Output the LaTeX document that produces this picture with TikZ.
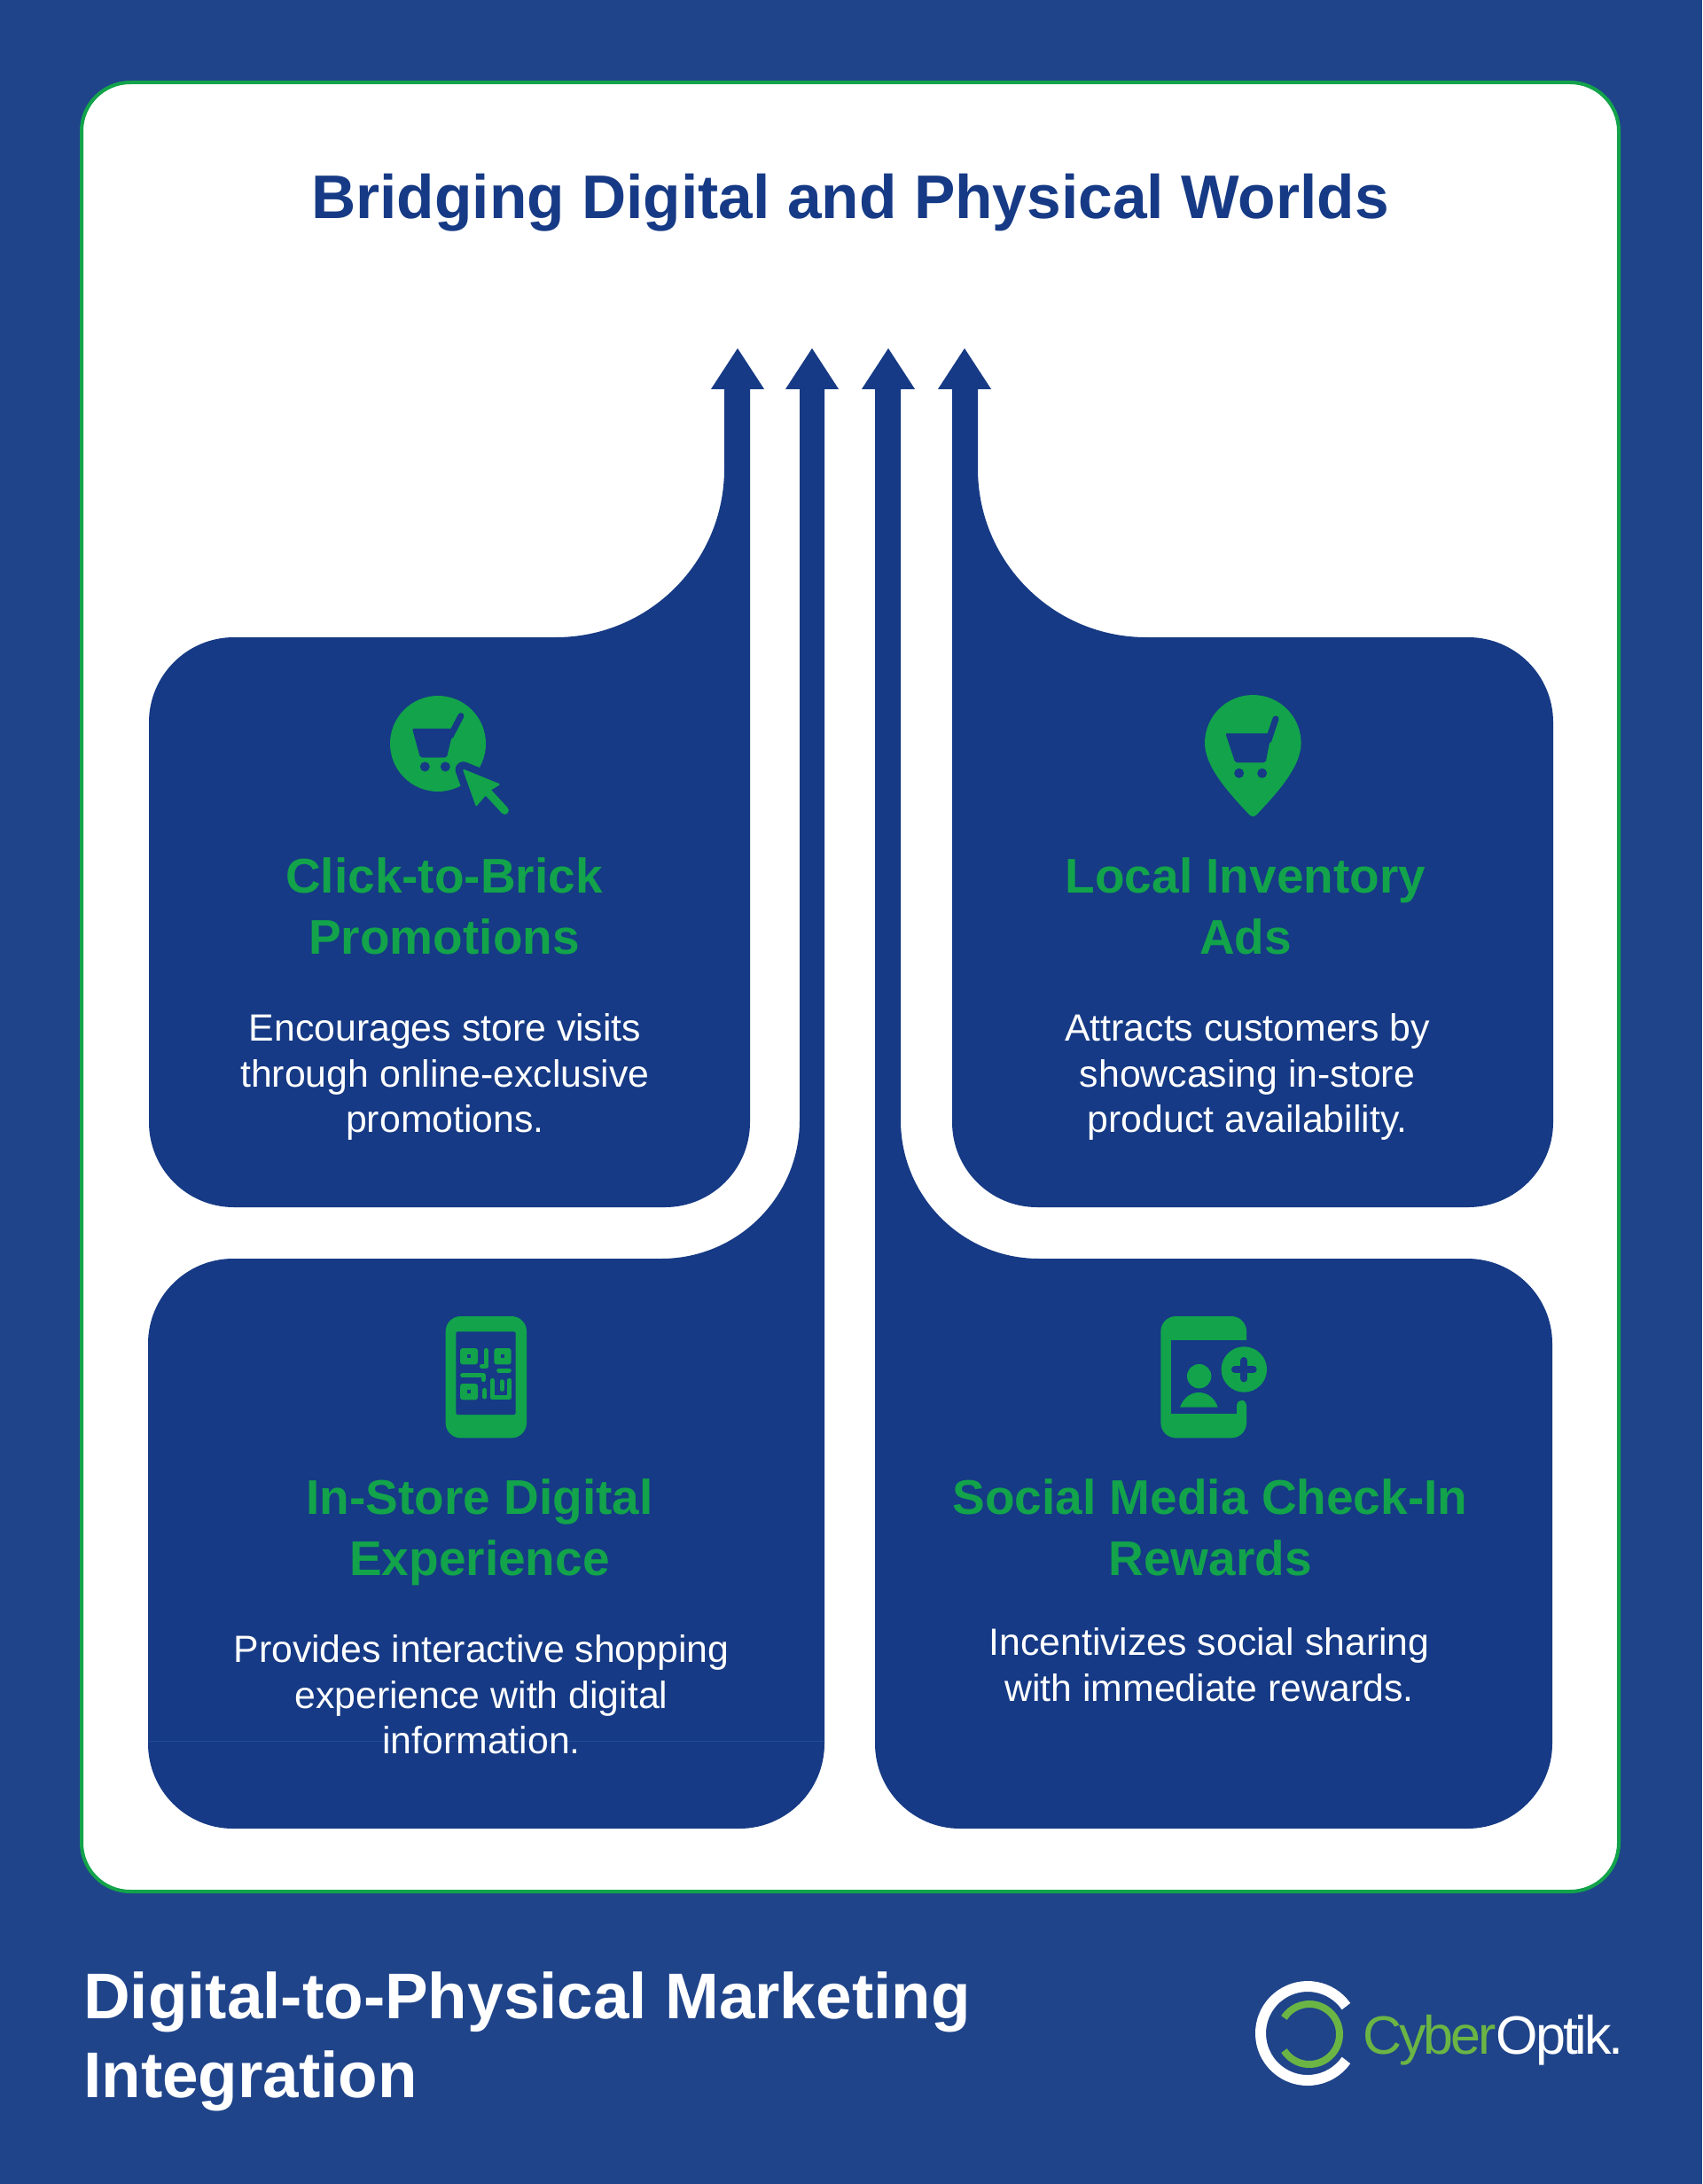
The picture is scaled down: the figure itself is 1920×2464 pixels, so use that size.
\documentclass[tikz,border=0pt]{standalone}
\usepackage{fontspec}
\setmainfont{Liberation Sans}
\newfontfamily\logofont[LetterSpace=-5]{Liberation Sans}
\definecolor{bgblue}{HTML}{1F448A}
\definecolor{cardblue}{HTML}{163A85}
\definecolor{seamblue}{HTML}{234A94}
\definecolor{mygreen}{HTML}{12A34B}
\definecolor{logogreen}{HTML}{6BB544}
\tikzset{
  cardshape/.style={fill=cardblue},
  headtext/.style={text=mygreen,align=center,inner sep=0pt,font=\fontsize{55}{69}\selectfont\bfseries},
  bodytext/.style={text=white,align=center,inner sep=0pt,font=\fontsize{42.8}{51.5}\selectfont},
  iconfill/.style={fill=mygreen},
  iconcut/.style={fill=cardblue},
  iconline/.style={draw=mygreen,line cap=round,line join=round},
  cutline/.style={draw=cardblue,line cap=round,line join=round},
  zoomthree/.style={x=0.33333pt,y=-0.33333pt}
}
\begin{document}
\begin{tikzpicture}[x=1pt,y=-1pt]
\useasboundingbox (0,0) rectangle (1920,2464);
\fill[bgblue] (0,0) rectangle (1920,2464);
\draw[mygreen,fill=white,line width=4pt,rounded corners=55pt] (92,93) rectangle (1826,2134);
% title
\node[anchor=base,text=cardblue,inner sep=0pt,font=\fontsize{69.5}{74}\selectfont\bfseries] (title) at (959,247) {Bridging Digital and Physical Worlds};
% card shapes with arrows
\fill[cardshape] (832,393) -- (862,439) -- (846,439) -- (846,1266)
  arc[start angle=0,end angle=-90,radius=96pt] -- (264,1362)
  arc[start angle=-90,end angle=-180,radius=96pt] -- (168,815)
  arc[start angle=180,end angle=90,radius=96pt] -- (627,719)
  arc[start angle=-90,end angle=0,radius=190pt] -- (817,439) -- (802,439) -- cycle;
\fill[cardshape] (1088,393) -- (1118,439) -- (1103,439) -- (1103,529)
  arc[start angle=180,end angle=270,radius=190pt] -- (1656,719)
  arc[start angle=90,end angle=0,radius=96pt] -- (1752,1266)
  arc[start angle=0,end angle=-90,radius=96pt] -- (1170,1362)
  arc[start angle=270,end angle=180,radius=96pt] -- (1074,439) -- (1058,439) -- cycle;
\fill[cardshape] (916,393) -- (946,439) -- (930,439) -- (930,1967)
  arc[start angle=0,end angle=-90,radius=96pt] -- (263,2063)
  arc[start angle=-90,end angle=-180,radius=96pt] -- (167,1516)
  arc[start angle=180,end angle=90,radius=96pt] -- (746,1420)
  arc[start angle=-90,end angle=0,radius=156pt] -- (902,439) -- (886,439) -- cycle;
\fill[cardshape] (1002,393) -- (1032,439) -- (1016,439) -- (1016,1264)
  arc[start angle=180,end angle=270,radius=156pt] -- (1655,1420)
  arc[start angle=90,end angle=0,radius=96pt] -- (1751,1967)
  arc[start angle=0,end angle=-90,radius=96pt] -- (1083,2063)
  arc[start angle=270,end angle=180,radius=96pt] -- (987,439) -- (972,439) -- cycle;
\fill[seamblue] (167,1963.5) rectangle (930,1964.5);
% texts
\node[headtext] (h1) at (501,1028) {\strut Click-to-Brick\\Promotions\strut};
\node[bodytext] (b1) at (502,1216) {\strut Encourages store visits\\through online-exclusive\\promotions.\strut};
\node[headtext] (h2) at (1405,1028) {\strut Local Inventory\\Ads\strut};
\node[bodytext] (b2) at (1407,1216) {\strut Attracts customers by\\showcasing in-store\\product availability.\strut};
\node[headtext] (h3) at (541,1729) {\strut In-Store Digital\\Experience\strut};
\node[bodytext] (b3) at (543,1917) {\strut Provides interactive shopping\\experience with digital\\information.\strut};
\node[headtext] (h4) at (1365,1729) {\strut Social Media Check-In\\Rewards\strut};
\node[bodytext] (b4) at (1364,1883) {\strut Incentivizes social sharing\\with immediate rewards.\strut};
% footer
\node[text=white,align=left,anchor=west,inner sep=0pt,font=\fontsize{72.9}{89.5}\selectfont\bfseries] (foot) at (94,2304) {\strut Digital-to-Physical Marketing\\Integration\strut};
% logo
\draw[white,line width=12pt] (1475,2294) ++(35:53pt) arc[start angle=35,end angle=325,radius=53pt];
\draw[logogreen,line width=8pt] (1477,2295) ++(147:34pt) arc[start angle=147,end angle=-147,radius=34pt];
\node[anchor=base west,inner sep=0pt,font=\fontsize{61}{61}\logofont] (logo) at (1537,2317) {\textcolor{logogreen}{Cyber}\textcolor{white}{Optik.}};
% icon 1: cart in circle with pointer
\begin{scope}[shift={(400,760)},zoomthree]
  \fill[iconfill] (282,237) circle[radius=54pt];
  \fill[iconcut,rounded corners=2pt] (195,186) -- (335,186) -- (312,284) -- (222,284) -- cycle;
  \draw[cutline,line width=7pt] (325,210) -- (360,143);
  \fill[iconcut] (238,315) circle[radius=5.5pt];
  \fill[iconcut] (307,315) circle[radius=5.5pt];
  \draw[cutline,line width=18pt] (368,325) -- (490,375) -- (462,393) -- (512,465) -- (440,412) -- (412,447) -- cycle;
  \draw[iconline,line width=2pt,fill=mygreen] (370,327) -- (488,375) -- (453,396) -- (470,414) -- (440,412) -- (412,445) -- cycle;
  \draw[iconline,line width=9pt] (450,400) -- (508,463);
\end{scope}
% icon 2: pin with cart
\begin{scope}[shift={(1330,760)},zoomthree]
  \fill[iconfill] (87,235) arc[start angle=180,end angle=0,radius=54.3pt]
    .. controls (413,320) and (320,415) .. (265,475)
    .. controls (256,486) and (244,486) .. (235,475)
    .. controls (180,415) and (87,320) .. (87,235) -- cycle;
  \fill[iconcut,rounded corners=2pt] (157,202) -- (312,202) -- (293,301) -- (190,301) -- cycle;
  \draw[cutline,line width=7pt] (303,225) -- (327,153);
  \fill[iconcut] (203,337) circle[radius=5.5pt];
  \fill[iconcut] (281,337) circle[radius=5.5pt];
\end{scope}
% icon 3: phone with QR code
\begin{scope}[shift={(480,1460)},zoomthree]
  \fill[iconfill,rounded corners=17pt] (68,75) rectangle (342,487);
  \fill[iconcut,rounded corners=2pt] (103,127) rectangle (305,408);
  \fill[iconfill,rounded corners=3pt] (117,183) rectangle (177,238);
  \fill[iconfill,rounded corners=3pt] (232,183) rectangle (290,238);
  \fill[iconfill,rounded corners=3pt] (117,303) rectangle (177,358);
  \fill[iconcut] (141,205) rectangle (152,216);
  \fill[iconcut] (256,205) rectangle (267,216);
  \fill[iconcut] (141,325) rectangle (152,336);
  \draw[iconline,line width=5pt] (205,190) -- (205,244) -- (190,244);
  \draw[iconline,line width=5pt] (125,275) -- (195,275) -- (195,290);
  \draw[iconline,line width=5pt] (248,258) -- (283,258);
  \draw[iconline,line width=5pt] (200,325) -- (200,348);
  \draw[iconline,line width=5pt] (226,292) -- (226,350) -- (284,350) -- (284,292);
  \draw[iconline,line width=5pt] (258,296) -- (258,322);
\end{scope}
% icon 4: phone with person and plus
\begin{scope}[shift={(1290,1460)},zoomthree]
  \fill[iconfill,rounded corners=17pt] (58,75) rectangle (348,487);
  \fill[iconcut] (92,155) rectangle (315,405);
  \fill[iconcut] (315,155) rectangle (352,380);
  \draw[iconline,line width=11pt] (332,376) -- (332,420);
  \fill[iconfill] (188,278) circle[radius=13.7pt];
  \fill[iconfill] (123,383) .. controls (135,350) and (160,333) .. (187,333)
    .. controls (214,333) and (240,350) .. (251,383) -- cycle;
  \fill[iconfill] (340,255) circle[radius=25.7pt];
  \draw[cutline,line width=8pt] (340,225) -- (340,286);
  \draw[cutline,line width=8pt] (309,255) -- (371,255);
\end{scope}
\end{tikzpicture}
\end{document}
